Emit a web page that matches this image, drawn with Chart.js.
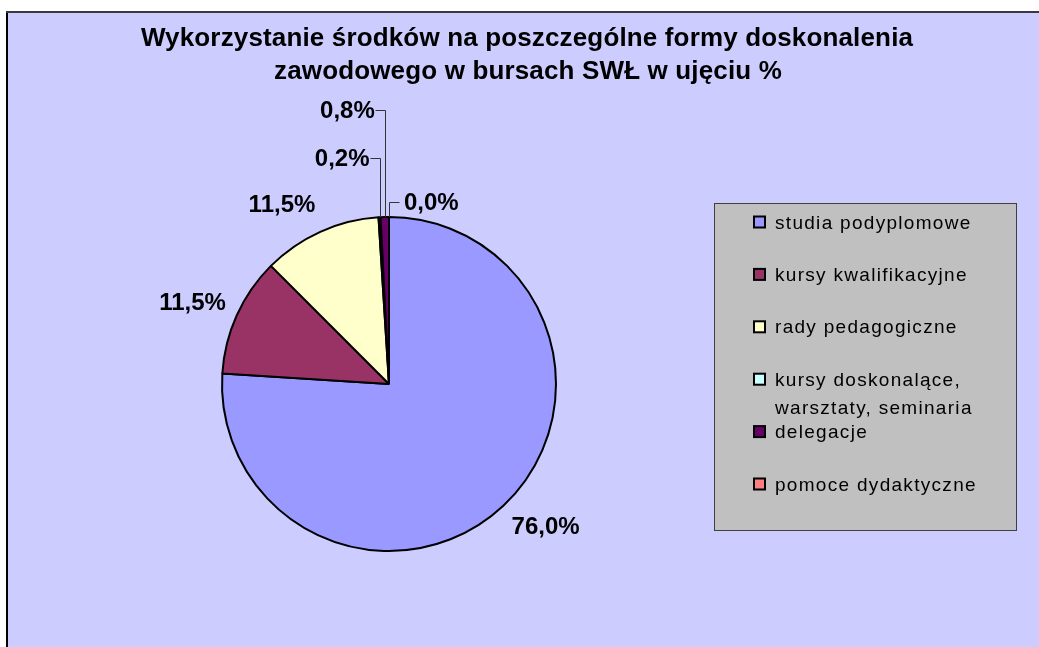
<!DOCTYPE html>
<html><head><meta charset="utf-8">
<script src="https://cdn.jsdelivr.net/npm/chart.js@4.4.1/dist/chart.umd.min.js"></script>
<style>html,body{margin:0;padding:0;background:#fff;overflow:hidden}#wrap{width:1039px;height:647px;position:relative}canvas{display:block}</style>
</head><body><div id="wrap"><canvas id="c" width="1039" height="647"></canvas></div>
<script>
// ---- data ----
const categories = ['studia podyplomowe','kursy kwalifikacyjne','rady pedagogiczne','kursy doskonalące, warsztaty, seminaria','delegacje','pomoce dydaktyczne'];
const legendLines = [['studia podyplomowe'],['kursy kwalifikacyjne'],['rady pedagogiczne'],['kursy doskonalące,','warsztaty, seminaria'],['delegacje'],['pomoce dydaktyczne']];
const shares = [76.0, 11.5, 11.5, 0.2, 0.8, 0.0];
const valueLabels = ['76,0%','11,5%','11,5%','0,2%','0,8%','0,0%'];
const titleLines = ['Wykorzystanie środków na poszczególne formy doskonalenia','zawodowego w bursach SWŁ w ujęciu %'];
const colors = ['#9999FF','#993366','#FFFFCC','#CCFFFF','#660066','#FF8080'];
// callout layout for tiny slices (label raised above the pie edge)
const callouts = {3:{rise:59, side:-1}, 4:{rise:107, side:-1}, 5:{rise:15, side:1}};

const FONT = '"Liberation Sans", Arial, sans-serif';

const decor = {
  id:'decor',
  beforeDraw(chart){
    const ctx = chart.ctx;
    ctx.save();
    ctx.fillStyle = '#ffffff';
    ctx.fillRect(0,0,chart.width,chart.height);
    ctx.fillStyle = '#CCCCFF';
    ctx.fillRect(7,12,chart.width-7,chart.height-12);
    ctx.fillStyle = '#000000';
    ctx.fillRect(6,11,2,chart.height-11);
    ctx.fillStyle = '#3a3a3a';
    ctx.fillRect(6,11,chart.width-6,2);
    // title
    ctx.fillStyle = '#000';
    ctx.font = 'bold 26px ' + FONT;
    ctx.textAlign = 'center';
    ctx.textBaseline = 'alphabetic';
    if ('letterSpacing' in ctx) ctx.letterSpacing = '0.15px';
    ctx.fillText(titleLines[0], 527, 46);
    ctx.fillText(titleLines[1], 528, 79);
    // legend
    ctx.fillStyle = '#C0C0C0';
    ctx.fillRect(714,203,302,327);
    ctx.strokeStyle = '#404040';
    ctx.lineWidth = 1;
    ctx.strokeRect(714.5,203.5,302,327);
    ctx.textAlign = 'left';
    ctx.font = '19px ' + FONT;
    if ('letterSpacing' in ctx) ctx.letterSpacing = '1.3px';
    legendLines.forEach((lines,i)=>{
      const cy = 221.5 + i*52.4;
      ctx.fillStyle = colors[i];
      ctx.fillRect(754,cy-5,11,11);
      ctx.strokeStyle = '#000';
      ctx.lineWidth = 2;
      ctx.strokeRect(754,cy-5,11,11);
      ctx.fillStyle = '#000';
      lines.forEach((t,j)=>ctx.fillText(t, 775, cy+7+j*28));
    });
    if ('letterSpacing' in ctx) ctx.letterSpacing = '0px';
    ctx.restore();
  },
  afterDatasetsDraw(chart){
    const ctx = chart.ctx;
    const meta = chart.getDatasetMeta(0);
    ctx.save();
    ctx.font = 'bold 24px ' + FONT;
    ctx.fillStyle = '#000';
    ctx.textBaseline = 'middle';
    meta.data.forEach((arc,i)=>{
      const p = arc.getProps(['x','y','startAngle','endAngle','outerRadius'], true);
      const mid = (p.startAngle + p.endAngle)/2;
      const dx = Math.cos(mid), dy = Math.sin(mid);
      const text = valueLabels[i];
      const w = ctx.measureText(text).width;
      const co = callouts[i];
      if (co){
        const ex = p.x + p.outerRadius*dx, ey = p.y + p.outerRadius*dy;
        const ly = ey - co.rise;
        const hx = ex + co.side*10;
        ctx.strokeStyle = '#333';
        ctx.lineWidth = 1;
        ctx.beginPath();
        ctx.moveTo(Math.round(ex)+0.5, ey);
        ctx.lineTo(Math.round(ex)+0.5, Math.round(ly)+0.5);
        ctx.lineTo(Math.round(hx)+0.5, Math.round(ly)+0.5);
        ctx.stroke();
        ctx.textAlign = co.side < 0 ? 'right' : 'left';
        ctx.fillText(text, hx + co.side*(co.side<0?0:5), ly+1);
      } else {
        const r = p.outerRadius + 12;
        const px = p.x + r*dx, py = p.y + r*dy;
        const cx = px + Math.sign(dx)*Math.min(1, 2.5*Math.abs(dx))*w/2;
        const cy = py + dy*17;
        ctx.textAlign = 'center';
        ctx.fillText(text, cx, cy);
      }
    });
    ctx.restore();
  }
};

new Chart(document.getElementById('c'), {
  type:'pie',
  data:{
    labels: categories,
    datasets:[{
      data: shares,
      backgroundColor: colors,
      borderColor:'#000',
      borderWidth:2,
      hoverOffset:0,
      offset:0,
      radius:167
    }]
  },
  options:{
    responsive:false,
    animation:false,
    devicePixelRatio:1,
    layout:{padding:{left:222,right:483,top:217,bottom:96}},
    plugins:{legend:{display:false},title:{display:false},tooltip:{enabled:false}}
  },
  plugins:[decor]
});
</script>
</body></html>
